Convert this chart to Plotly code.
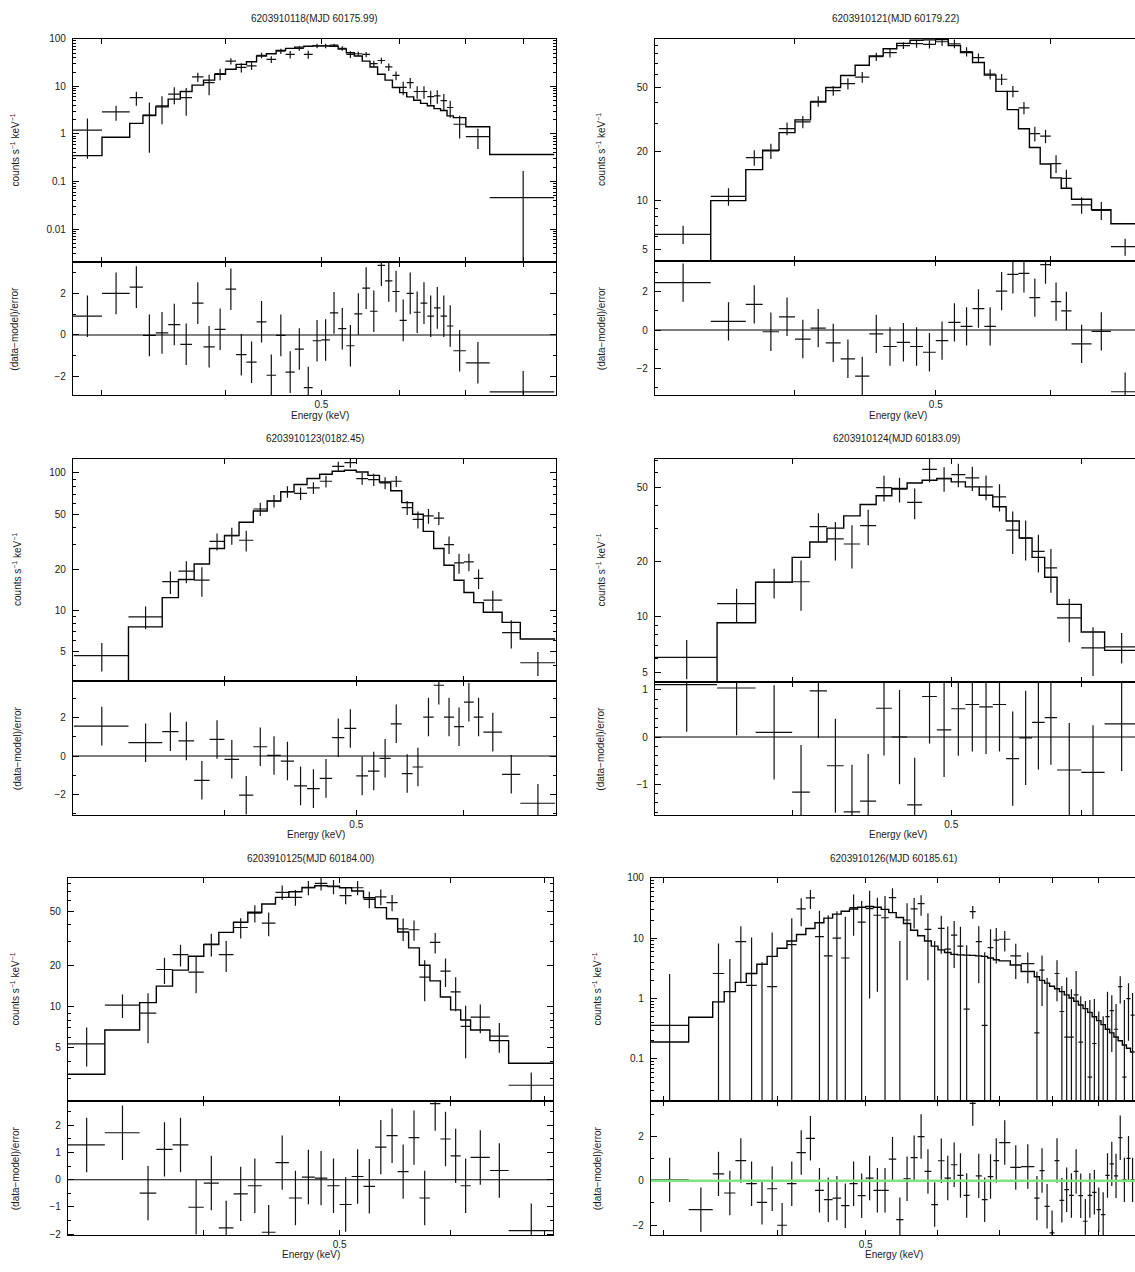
import plotly.graph_objects as go

W, H = 1135, 1272
FONT = "Liberation Sans"
TXT = "#1a1a1a"

titles = ["6203910118(MJD 60175.99)", "6203910121(MJD 60179.22)", "6203910123(0182.45)",
          "6203910124(MJD 60183.09)", "6203910125(MJD 60184.00)", "6203910126(MJD 60185.61)"]

# ---------------- Panel 1 ----------------
p1_edges = [0.28, 0.30, 0.32, 0.33, 0.34, 0.35, 0.36, 0.37, 0.38, 0.39, 0.40, 0.41, 0.42, 0.43,
            0.44, 0.45, 0.46, 0.47, 0.48, 0.49, 0.50, 0.51, 0.52, 0.53, 0.54, 0.55, 0.56, 0.57,
            0.58, 0.59, 0.60, 0.61, 0.62, 0.63, 0.64, 0.65, 0.66, 0.67, 0.68, 0.70, 0.74, 0.86]
p1_data = [1.2, 2.9, 5.8, 2.5, 3.9, 6.9, 5.8, 15.8, 12, 18.5, 34, 25, 27, 45, 37, 55, 47, 63, 47, 71,
           71, 74, 63, 47, 48.5, 47, 30, 35, 25.6, 17, 9.5, 12, 7.8, 7.8, 6.1, 6.3, 5.0, 3.6, 1.6, 0.88, 0.046]
p1_err = [0.9, 1.0, 1.9, 2.1, 2.3, 2.7, 3.4, 3.5, 5.5, 5, 5, 5.5, 5, 6, 6, 7, 8.5, 7, 9, 8,
          8, 4.5, 7, 7.5, 5, 6, 4.5, 5, 4.5, 3.6, 3.0, 3.0, 2.3, 2.3, 2.0, 2.0, 1.9, 1.4, 0.8, 0.4, 0.12]
p1_model = [0.35, 0.85, 1.67, 2.45, 3.7, 5.4, 7.8, 10.6, 13.5, 17.9, 22.9, 29, 33, 43.5, 48.5, 57, 62.8,
            67, 70, 71, 71, 70, 61, 51, 43.5, 34, 25.6, 18, 13.5, 9.5, 7.4, 6.0, 5.1, 4.4, 3.9, 3.4,
            3.1, 2.4, 2.2, 1.42, 0.37]
p1_resid = [0.9, 2.0, 2.3, -0.02, 0.1, 0.5, -0.45, 1.53, -0.57, 0.27, 2.2, -0.95, -1.31, 0.63, -1.94,
            -0.02, -1.79, -0.68, -2.53, -0.28, -0.24, 1.06, 0.3, -0.52, 1.01, 2.25, 1.14, 3.35, 2.6,
            2.09, 0.7, 2.0, 1.09, 1.53, 0.9, 1.3, 0.9, 0.43, -0.76, -1.34, -2.74]

# ---------------- Panel 2 ----------------
p2_edges = [0.32, 0.35, 0.37, 0.38, 0.39, 0.40, 0.41, 0.42, 0.43, 0.44, 0.45, 0.46, 0.47, 0.48, 0.49,
            0.50, 0.51, 0.52, 0.53, 0.54, 0.55, 0.56, 0.57, 0.58, 0.59, 0.60, 0.61, 0.62, 0.64, 0.66, 0.69]
p2_data = [6.2, 10.6, 18.4, 20.2, 27.7, 30.5, 40.8, 47.5, 52.5, 57.5, 76.9, 81.3, 90, 92.5, 91.5, 95,
           92.3, 82.5, 75.9, 60, 55.8, 47, 37.2, 25.8, 24.9, 16.9, 13.7, 9.4, 8.7, 5.2]
p2_err = [0.8, 1.3, 2.0, 2.2, 2.5, 2.6, 3.0, 3.3, 4.2, 4.4, 4.5, 5.2, 4.4, 5.2, 5.2, 5.5, 5.8, 5.5, 4.6,
          4.3, 4.3, 3.7, 3.2, 2.7, 2.4, 2.1, 1.8, 1.1, 1.1, 0.62]
p2_model = [4.1, 10.0, 15.5, 20.4, 26.2, 31.4, 40.4, 49.7, 58.9, 68.1, 77.6, 86, 92.8, 97, 97.5, 98, 90,
            81.5, 70.7, 59.2, 47, 36.3, 27.7, 21.2, 16.8, 13.8, 11.9, 10.2, 8.8, 7.2]
p2_resid = [2.47, 0.45, 1.34, -0.09, 0.69, -0.47, 0.1, -0.67, -1.5, -2.4, -0.2, -0.86, -0.64, -0.86,
            -1.16, -0.55, 0.4, 0.19, 1.12, 0.19, 2.03, 2.9, 2.95, 1.69, 3.41, 1.48, 1.0, -0.72, -0.07, -3.22]

# ---------------- Panel 3 ----------------
p3_edges = [0.31, 0.34, 0.36, 0.37, 0.38, 0.39, 0.40, 0.41, 0.42, 0.43, 0.44, 0.45, 0.46, 0.47, 0.48,
            0.49, 0.50, 0.51, 0.52, 0.53, 0.54, 0.55, 0.56, 0.57, 0.58, 0.59, 0.60, 0.61, 0.62, 0.64,
            0.66, 0.70]
p3_data = [4.7, 9.0, 16.2, 19.3, 16.6, 31.8, 35, 32.4, 54.7, 62.5, 73, 71, 78, 87, 111.7, 118.7, 91,
           89.5, 84.7, 87, 56, 46, 48.7, 46.9, 30.1, 22.2, 22.6, 17.1, 11.9, 6.9, 4.17]
p3_err = [1.1, 1.7, 3.0, 3.5, 4.0, 4.5, 5, 5.6, 6, 6.5, 7, 7.4, 7.7, 8.5, 9, 9.5, 9, 9, 8.5, 8, 6.5,
          6.5, 6, 5.1, 4.4, 3.7, 3.3, 2.8, 2.0, 1.6, 0.83]
p3_model = [3.0, 7.6, 12.4, 16.8, 21.8, 28.2, 35.1, 43.8, 52.9, 62.5, 73, 82.4, 91, 97.8, 102.8, 104.5,
            101.7, 96, 86, 74.2, 60.8, 50.1, 37.6, 28.2, 21.3, 16.6, 13.5, 11.4, 9.7, 8.2, 6.2]
p3_resid = [1.55, 0.69, 1.26, 0.78, -1.26, 0.86, -0.17, -2.03, 0.48, 0.03, -0.26, -1.55, -1.69, -1.16,
            0.95, 1.43, -1.03, -0.78, -0.12, 1.67, -0.91, -0.57, 2.02, 3.67, 2.02, 1.52, 2.79, 2.02,
            1.24, -0.95, -2.45]

# ---------------- Panel 4 ----------------
p4_edges = [0.33, 0.36, 0.38, 0.40, 0.41, 0.42, 0.43, 0.44, 0.45, 0.46, 0.47, 0.48, 0.49, 0.50, 0.51,
            0.52, 0.53, 0.54, 0.55, 0.56, 0.57, 0.58, 0.60, 0.62, 0.65]
p4_data = [6.05, 11.8, 15.4, 15.5, 30.8, 26.4, 24.8, 31.2, 50, 49, 41.6, 62.8, 56, 58.8, 56.4, 50.5,
           44.6, 29.5, 26.7, 22.6, 18.4, 9.9, 6.8, 6.9]
p4_err = [1.45, 2.4, 2.8, 4.7, 5.5, 6.2, 6.5, 6.8, 7.9, 7.5, 7.9, 9.3, 8.5, 8.5, 8.5, 7.7, 7.5, 7.6,
          6.5, 5.2, 4.9, 2.6, 2.0, 1.3]
p4_model = [4.3, 9.3, 15.4, 21, 25.4, 30.2, 35.2, 40.5, 45.2, 49.5, 53, 54.8, 56, 53.7, 50.5, 45.5,
            39.4, 33, 26.7, 21, 16.4, 11.7, 8.3, 6.6]
p4_resid = [1.11, 1.04, 0.1, -1.17, 0.98, -0.61, -1.59, -1.36, 0.61, 0.0, -1.44, 0.86, 0.15, 0.6,
            0.69, 0.64, 0.69, -0.46, -0.02, 0.31, 0.41, -0.7, -0.75, 0.28]

# ---------------- Panel 5 ----------------
p5_edges = [0.32, 0.34, 0.36, 0.37, 0.38, 0.39, 0.40, 0.41, 0.42, 0.43, 0.44, 0.45, 0.46, 0.47, 0.48,
            0.49, 0.50, 0.51, 0.52, 0.53, 0.54, 0.55, 0.56, 0.57, 0.58, 0.59, 0.60, 0.61, 0.62, 0.64,
            0.66, 0.71]
p5_data = [5.35, 10.3, 9.0, 18.8, 24.2, 18.0, 28.9, 24.2, 38.2, 48.6, 41.1, 69.2, 63.6, 74.8, 80.4,
           76.1, 65.5, 74.8, 61.5, 64.2, 58.2, 37.4, 36.8, 16.5, 29.7, 18.3, 12.9, 7.2, 8.4, 6.1, 2.66]
p5_err = [1.7, 2.0, 3.6, 4.1, 4.4, 5.4, 5.5, 6.2, 6.5, 7, 8.2, 8.5, 8.5, 9, 9, 9, 9, 9, 8.5, 8.5, 8,
          7, 6.3, 5.5, 5.1, 4.3, 3.6, 3.0, 2.0, 1.5, 0.64]
p5_model = [3.2, 6.76, 10.75, 14.2, 18.6, 23.5, 28.6, 35.2, 41.8, 49.5, 56.9, 63.6, 69.9, 75.2, 77.3,
            76.9, 74.8, 70.8, 63.2, 53.5, 44.3, 35.4, 27.1, 20.2, 15.5, 11.8, 9.5, 8.0, 6.76, 5.65, 3.86]
p5_resid = [1.28, 1.73, -0.49, 1.12, 1.28, -1.01, -0.12, -1.77, -0.52, -0.22, -1.93, 0.63, -0.67, 0.1,
            0.06, -0.22, -0.91, 0.12, -0.24, 1.2, 1.62, 0.3, 1.55, -0.67, 2.8, 1.5, 0.88, -0.22, 0.82,
            0.34, -1.87]

# ---------------- Panel 6 ----------------
p6_edges = [0.29, 0.32, 0.34, 0.35, 0.36, 0.37, 0.38, 0.39, 0.40, 0.41, 0.42, 0.43, 0.44, 0.45, 0.46,
            0.47, 0.48, 0.49, 0.50, 0.51, 0.52, 0.53, 0.54, 0.55, 0.56, 0.57, 0.58, 0.59, 0.60, 0.61,
            0.62, 0.63, 0.64, 0.65, 0.66, 0.67, 0.68, 0.69, 0.70, 0.72, 0.74, 0.765, 0.775, 0.785,
            0.795, 0.805, 0.815, 0.825, 0.835, 0.845, 0.855, 0.865, 0.875, 0.885, 0.895, 0.905, 0.915,
            0.925, 0.935, 0.945, 0.955, 0.965, 0.975, 0.985]
p6_data = [0.36, None, 2.6, 0.01, 8.8, 1.65, 0.01, 1.58, None, 7.8,
           30.7, 46.6, 10.6, 5.1, 10, 4.7, 32, 18.5, 31, 24,
           21.8, 47, 0.01, 20, 30.5, 37.5, 14, 0.01, 14.5, 6.6,
           11.2, 7.4, 0.67, 27.5, 8.8, 0.36, 7.0, 9.3, 9.6, 5.1,
           3.8, 0.27, 2.95, 0.01, None, 2.6, 0.61, 0.23, 0.23, 1.15,
           0.19, 0.01, 0.05, 0.18, 0.01, 0.01, 0.5, 0.63, 0.31, 1.58,
           0.05, 1.0, 0.53]
p6_err = [2.2, 1.8, 5.6, 4.5, 7.0, 8.6, 4.0, 10.8, 6, 13.5,
          15, 16, 18, 19, 18, 18, 21, 23, 30, 22.7,
          28, 20, 9, 18, 16, 14, 12, 9, 9, 9,
          8, 8, 7, 6.5, 7, 5.5, 7, 5.5, 3.6, 3,
          2, 2.5, 2.2, 2.2, 1.5, 1.7, 1.0, 2.0, 1.2, 1.7,
          0.9, 0.9, 0.9, 0.8, 0.6, 0.5, 0.8, 0.5, 0.5, 0.75,
          0.9, 0.8, 0.7]
p6_model = [0.19, 0.49, 0.88, 1.3, 1.85, 2.6, 3.7, 5.0, 6.8, 9.0,
            11.5, 14.5, 18, 21.5, 25, 28, 30.5, 32.5, 33.5, 32.5,
            30, 26.5, 22, 17.5, 13.5, 11, 9.0, 7.4, 6.4, 5.8,
            5.4, 5.3, 5.25, 5.2, 5.1, 5.0, 4.7, 4.4, 4.2, 3.6,
            2.8, 2.3, 2.0, 1.8, 1.6, 1.45, 1.3, 1.15, 1.02, 0.9,
            0.78, 0.68, 0.59, 0.5, 0.43, 0.37, 0.31, 0.27, 0.23, 0.2,
            0.17, 0.15, 0.13]
p6_resid = [0.04, -1.3, 0.31, -0.55, 0.91, -0.13, -0.97, -0.36, -2.0, -0.13,
            1.27, 1.91, -0.43, -0.85, -0.78, -1.12, -0.13, -0.67, 0.12, -0.43,
            -0.43, 0.97, -1.75, 0.09, 1.04, 1.99, 0.42, -1.07, 0.9, 0.12,
            0.72, 0.24, -0.66, 3.48, 0.22, -0.85, 0.19, 0.91, 1.72, 0.6,
            0.64, -0.78, 0.46, -1.15, -2.34, 0.91, -0.88, -0.4, -0.66, 0.42,
            -0.67, -1.82, -0.66, -0.52, -1.3, -1.52, 0.24, 0.76, 0.22, 1.94,
            0.04, 1.01, 0.04]

# ---------------- tick labels ----------------
x_label_ticks = [0.5]
x_other_ticks = [0.3, 0.4, 0.6, 0.7, 0.8, 0.9]

up_ticks = [[0.01, 0.1, 1, 10, 100], [5, 10, 20, 50], [5, 10, 20, 50, 100],
            [5, 10, 20, 50], [5, 10, 20, 50], [0.1, 1, 10, 100]]
up_ticktext = [["0.01", "0.1", "1", "10", "100"], ["5", "10", "20", "50"], ["5", "10", "20", "50", "100"],
               ["5", "10", "20", "50"], ["5", "10", "20", "50"], ["0.1", "1", "10", "100"]]
lo_ticks = [[-2, 0, 2], [-2, 0, 2], [-2, 0, 2], [-1, 0, 1], [-2, -1, 0, 1, 2], [-2, 0, 2]]

PANELS = [
    (p1_edges, p1_data, p1_err, p1_model, p1_resid),
    (p2_edges, p2_data, p2_err, p2_model, p2_resid),
    (p3_edges, p3_data, p3_err, p3_model, p3_resid),
    (p4_edges, p4_data, p4_err, p4_model, p4_resid),
    (p5_edges, p5_data, p5_err, p5_model, p5_resid),
    (p6_edges, p6_data, p6_err, p6_model, p6_resid),
]

# ---------------- layout geometry (pixels) ----------------
FRAMES = [(73, 556, 34, 259, 393), (655, 1135, 34, 258, 393),
          (73, 556, 457, 681, 816), (655, 1135, 457, 682, 816),
          (68, 553, 879, 1104, 1239), (651, 1135, 879, 1104, 1239)]
XR = [(-0.5522, -0.0637), (-0.4943, -0.1639), (-0.5093, -0.1542),
      (-0.4815, -0.1891), (-0.4948, -0.1488), (-0.5361, -0.0061)]
YUP = [(-2.696, 2.001), (0.627, 1.996), (0.486, 2.103), (0.6476, 1.855), (0.308, 1.947), (-1.701, 2.001)]
YLO = [(-2.9, 3.5), (-3.40, 3.59), (-3.07, 3.88), (-1.66, 1.164), (-2.04, 2.89), (-2.45, 3.58)]
LO_MINOR = [1, 1, 1, 0.2, 0.5, 1]
TITLE_X = [314.5, 895, 314.5, 896, 310, 893]
TITLE_Y = [14, 14, 437, 437, 860, 860]
YT_X = [15, 601, 17, 601, 15, 597]
EN_X = [320, 898, 316, 898, 311, 894]
EN_Y = [413, 413, 835, 835, 1258, 1258]
RIGHT = [False, True, False, True, False, True]


def minor_log(lo, hi):
    vals = []
    for e in range(-4, 4):
        for k in range(2, 10):
            v = k * 10 ** e
            if 10 ** lo <= v <= 10 ** hi:
                vals.append(v)
    return vals


def minor_lin(lo, hi, step):
    vals = []
    n = int(round(lo / step)) - 1
    while n * step <= hi:
        v = round(n * step, 6)
        if lo <= v <= hi:
            vals.append(v)
        n += 1
    return vals


fig = go.Figure()
layout = dict(width=W, height=H, margin=dict(l=0, r=0, t=0, b=0),
              paper_bgcolor="white", plot_bgcolor="white", showlegend=False,
              font=dict(family=FONT, size=10, color=TXT))
annotations = []
shapes = []

LINEC = "black"
axis_common = dict(showline=True, linecolor=LINEC, linewidth=1.3, ticks="inside", tickcolor=LINEC,
                   tickwidth=1, showgrid=False, zeroline=False,
                   tickfont=dict(family=FONT, size=10, color=TXT))
x_minor = dict(tickvals=x_other_ticks, ticks="inside", ticklen=5, tickcolor=LINEC, tickwidth=1,
               showgrid=False)

for i, (edges, data, err, model, resid) in enumerate(PANELS):
    iu, il = 2 * i + 1, 2 * i + 2
    xu, yu, xl, yl = f"x{iu}", f"y{iu}", f"x{il}", f"y{il}"
    x0, x1, yt, ym, yb = FRAMES[i]
    cen = [(a + b) / 2 for a, b in zip(edges[:-1], edges[1:])]
    hw = [(b - a) / 2 for a, b in zip(edges[:-1], edges[1:])]

    # model histogram
    fig.add_trace(go.Scatter(x=edges, y=list(model) + [model[-1]], mode="lines",
                             line=dict(shape="hv", color="black", width=1.4),
                             xaxis=xu, yaxis=yu, hoverinfo="skip"))
    # data crosses
    fig.add_trace(go.Scatter(x=cen, y=data, mode="markers",
                             marker=dict(size=1, color="rgba(0,0,0,0)"),
                             error_x=dict(type="data", array=hw, symmetric=True, color="#111",
                                          thickness=1.2, width=0),
                             error_y=dict(type="data", array=err, symmetric=True, color="#111",
                                          thickness=1.2, width=0),
                             xaxis=xu, yaxis=yu, hoverinfo="skip"))
    # residual crosses
    fig.add_trace(go.Scatter(x=cen, y=resid, mode="markers",
                             marker=dict(size=1, color="rgba(0,0,0,0)"),
                             error_x=dict(type="data", array=hw, symmetric=True, color="#111",
                                          thickness=1.2, width=0),
                             error_y=dict(type="constant", value=1, color="#111",
                                          thickness=1.2, width=0),
                             xaxis=xl, yaxis=yl, hoverinfo="skip"))
    # zero line
    zc, zw = ("#7fe37f", 2.6) if i == 5 else ("black", 1.1)
    shapes.append(dict(type="line", xref=f"{xl} domain", yref=yl, x0=0, x1=1, y0=0, y1=0,
                       line=dict(color=zc, width=zw), layer="above"))

    xdom = [x0 / W, min(1.0, x1 / W)]
    ydom_u = [1 - ym / H, 1 - yt / H]
    ydom_l = [1 - yb / H, 1 - ym / H]
    ymirror = False if RIGHT[i] else "ticks"

    layout[f"xaxis{iu}"] = dict(axis_common, type="log", range=list(XR[i]), domain=xdom, anchor=yu,
                                mirror="ticks", tickvals=x_label_ticks, ticktext=["0.5"],
                                showticklabels=False, ticklen=5, minor=x_minor)
    layout[f"xaxis{il}"] = dict(axis_common, type="log", range=list(XR[i]), domain=xdom, anchor=yl,
                                mirror="ticks", tickvals=x_label_ticks, ticktext=["0.5"],
                                showticklabels=True, ticklen=5, minor=x_minor)
    layout[f"yaxis{iu}"] = dict(axis_common, type="log", range=list(YUP[i]), domain=ydom_u, anchor=xu,
                                mirror=ymirror, tickvals=up_ticks[i], ticktext=up_ticktext[i],
                                ticklen=6, ticklabelstandoff=4,
                                minor=dict(tickvals=minor_log(*YUP[i]), ticks="inside", ticklen=3,
                                           tickcolor=LINEC, showgrid=False))
    layout[f"yaxis{il}"] = dict(axis_common, range=list(YLO[i]), domain=ydom_l, anchor=xl,
                                mirror=ymirror, tickvals=lo_ticks[i], ticklen=6, ticklabelstandoff=4,
                                minor=dict(tickvals=minor_lin(YLO[i][0], YLO[i][1], LO_MINOR[i]),
                                           ticks="inside", ticklen=3, tickcolor=LINEC, showgrid=False))

    # texts
    annotations.append(dict(text=titles[i], x=TITLE_X[i] / W, y=1 - TITLE_Y[i] / H, xref="paper",
                            yref="paper", showarrow=False, xanchor="center", yanchor="middle",
                            font=dict(family=FONT, size=10, color=TXT)))
    annotations.append(dict(text="counts s<sup>−1</sup> keV<sup>−1</sup>", x=YT_X[i] / W,
                            y=1 - (yt + ym) / 2 / H, xref="paper", yref="paper", showarrow=False,
                            textangle=-90, xanchor="center", yanchor="middle",
                            font=dict(family=FONT, size=10, color=TXT)))
    annotations.append(dict(text="(data−model)/error", x=YT_X[i] / W, y=1 - (ym + yb) / 2 / H,
                            xref="paper", yref="paper", showarrow=False, textangle=-90,
                            xanchor="center", yanchor="middle",
                            font=dict(family=FONT, size=10, color=TXT)))
    annotations.append(dict(text="Energy (keV)", x=EN_X[i] / W, y=1 - EN_Y[i] / H, xref="paper",
                            yref="paper", showarrow=False, xanchor="center", yanchor="middle",
                            font=dict(family=FONT, size=10, color=TXT)))

layout["annotations"] = annotations
layout["shapes"] = shapes
fig.update_layout(**layout)
fig.write_html("out.html")
